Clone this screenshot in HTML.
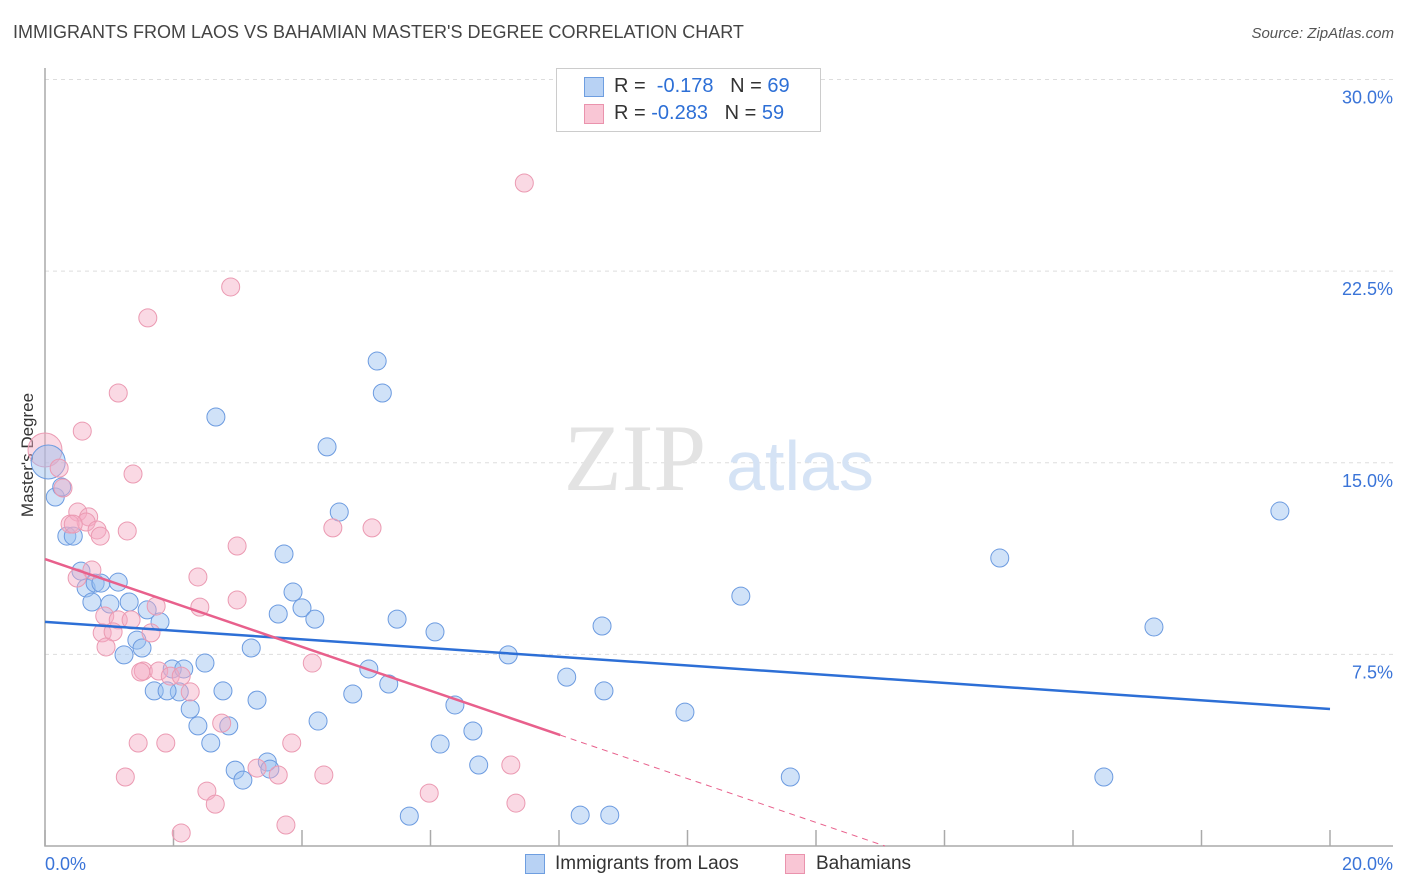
<!DOCTYPE html>
<html><head><meta charset="utf-8"><style>
body{margin:0;background:#fff;font-family:"Liberation Sans",sans-serif;}
#wrap{position:relative;width:1406px;height:892px;overflow:hidden;}
.t{position:absolute;white-space:nowrap;}
</style></head><body>
<div id="wrap">
<div class="t" style="left:13px;top:22px;font-size:18px;color:#444;">IMMIGRANTS FROM LAOS VS BAHAMIAN MASTER'S DEGREE CORRELATION CHART</div>
<div class="t" style="right:12px;top:25px;font-size:15px;color:#555;font-style:italic;">Source: ZipAtlas.com</div>
<div class="t" style="left:-34px;top:445px;font-size:17px;color:#333;transform:rotate(-90deg);">Master's Degree</div>
<svg id="plot" width="1406" height="892" style="position:absolute;left:0;top:0"></svg>
<div style="position:absolute;left:556px;top:68px;width:263px;height:62px;border:1px solid #ccc;background:#fff;">
 <div style="position:absolute;left:27px;top:8px;width:18px;height:18px;background:#b8d2f4;border:1px solid #6e9ee0;"></div>
 <div class="t" style="left:57px;top:6px;font-size:20px;color:#333;">R = &nbsp;<span style="color:#2d6fd6">-0.178</span> &nbsp;&nbsp;N = <span style="color:#2d6fd6">69</span></div>
 <div style="position:absolute;left:27px;top:35px;width:18px;height:18px;background:#f9c6d5;border:1px solid #ea93ad;"></div>
 <div class="t" style="left:57px;top:33px;font-size:20px;color:#333;">R = <span style="color:#2d6fd6">-0.283</span> &nbsp;&nbsp;N = <span style="color:#2d6fd6">59</span></div>
</div>
<div>
 <div style="position:absolute;left:525px;top:854px;width:18px;height:18px;background:#b8d2f4;border:1px solid #6e9ee0;"></div>
 <div class="t" style="left:555px;top:853px;font-size:19px;color:#333;">Immigrants from Laos</div>
 <div style="position:absolute;left:785px;top:854px;width:18px;height:18px;background:#f9c6d5;border:1px solid #ea93ad;"></div>
 <div class="t" style="left:816px;top:853px;font-size:19px;color:#333;">Bahamians</div>
</div>
</div>
<script>
const yTicks=[30,22.5,15,7.5];
const yTickLabels=["30.0%","22.5%","15.0%","7.5%"];
const xTickLabels=["0.0%","20.0%"];
const laosX=[5.17,5.25,2.66,4.39,4.58,19.22,14.86,3.72,0.16,0.34,0.44,0.56,0.64,0.78,0.87,1.14,0.73,1.01,1.31,1.59,1.79,1.43,1.51,1.23,3.86,4.00,3.63,4.20,5.48,6.07,8.67,10.83,17.26,3.21,2.49,1.98,2.16,2.09,1.70,1.90,2.77,5.04,5.35,4.79,7.21,8.12,8.70,9.96,3.30,2.26,2.38,2.86,4.25,6.38,6.66,2.58,6.15,2.96,3.08,3.46,3.50,6.75,11.60,16.48,5.67,8.33,8.79,0.26];
const laosY=[18.98,17.73,16.79,15.62,13.07,13.11,11.27,11.43,13.66,12.13,12.13,10.76,10.10,10.29,10.29,10.33,9.55,9.47,9.55,9.24,8.77,8.06,7.75,7.48,9.94,9.32,9.08,8.88,8.88,8.38,8.61,9.78,8.57,7.75,7.16,6.93,6.93,6.03,6.07,6.07,6.07,6.93,6.34,5.95,7.48,6.61,6.07,5.24,5.71,5.36,4.70,4.70,4.89,5.52,4.50,4.03,3.99,2.97,2.58,3.29,3.01,3.17,2.70,2.70,1.17,1.21,1.21,14.05];
const bahX=[7.46,2.89,1.60,1.14,0.58,0.22,0.28,1.37,0.51,0.68,0.64,0.39,0.44,0.81,0.86,1.28,4.48,5.09,2.99,0.73,2.38,0.50,2.99,2.41,1.73,0.93,1.14,1.34,0.89,1.65,1.06,0.95,4.16,1.53,1.77,1.49,1.95,2.12,2.26,2.75,1.45,1.88,3.84,1.25,3.63,4.34,7.25,3.30,2.52,2.65,5.98,7.33,2.12,3.75];
const bahY=[25.95,21.88,20.67,17.73,16.24,14.79,14.01,14.56,13.07,12.88,12.68,12.60,12.60,12.37,12.13,12.33,12.45,12.45,11.74,10.80,10.53,10.49,9.63,9.35,9.39,9.00,8.85,8.85,8.34,8.34,8.38,7.79,7.16,6.85,6.85,6.81,6.65,6.65,6.03,4.81,4.03,4.03,4.03,2.70,2.78,2.78,3.17,3.05,2.15,1.64,2.07,1.68,0.51,0.82];
const bigLaos=[[0.05,15.03]];
const bigBah=[[0,15.5]];
const laosTrend=[8.77,5.36];
const bahTrend=[11.23,4.34];
const bahSolidEnd=8.02;
const NS="http://www.w3.org/2000/svg";
const svg=document.getElementById('plot');
const X0=45,X1=1330,Y0=846,PX=25.55;
function sx(v){return X0+(X1-X0)*v/20;}
function sy(v){return Y0-v*PX;}
function mk(tag,attrs){const e=document.createElementNS(NS,tag);for(const k in attrs)e.setAttribute(k,attrs[k]);svg.appendChild(e);return e;}
yTicks.forEach((t,i)=>{
 const g=mk('line',{x1:45,x2:1393,y1:sy(t),y2:sy(t),stroke:'#ddd','stroke-dasharray':'4,4'});
 
 
 const tx=mk('text',{x:1393,y:sy(t)+24,'text-anchor':'end','font-size':18,fill:'#3a74d8','font-family':'Liberation Sans'});
 tx.textContent=yTickLabels[i];
 
 
});
const ax=mk('path',{d:'M45 68V846H1393',stroke:'#aaa',fill:'none','stroke-width':1.5});


for(let i=0;i<=10;i++){
 const tk=mk('line',{x1:sx(i*2),x2:sx(i*2),y1:830,y2:846,stroke:'#aaa','stroke-width':1.5});
 
 
}
[[xTickLabels[0],45,'start'],[xTickLabels[1],1393,'end']].forEach(a=>{
 const tx=mk('text',{x:a[1],y:870,'text-anchor':a[2],'font-size':18,fill:'#3a74d8','font-family':'Liberation Sans'});
 tx.textContent=a[0];
 
 
});
const w1=mk('text',{x:635,y:490,'text-anchor':'middle','font-size':95,fill:'#e3e3e3','font-family':'Liberation Serif'});
w1.textContent='ZIP';


const w2=mk('text',{x:800,y:490,'text-anchor':'middle','font-size':70,fill:'#d5e3f5','font-family':'Liberation Sans'});
w2.textContent='atlas';


function dot(x,y,r,blue){
 const c=mk('circle',{cx:sx(x),cy:sy(y),r:r,fill:blue?'rgba(150,190,240,0.45)':'rgba(245,170,195,0.45)',stroke:blue?'#6c9be0':'#eb9ab2','stroke-width':1});
 
 
}
bigBah.forEach(p=>dot(p[0],p[1],17,false));
bigLaos.forEach(p=>dot(p[0],p[1],17,true));
laosX.forEach((x,i)=>dot(x,laosY[i],9,true));
bahX.forEach((x,i)=>dot(x,bahY[i],9,false));
const lt=mk('line',{x1:sx(0),y1:sy(laosTrend[0]),x2:sx(20),y2:sy(laosTrend[1]),stroke:'#2d6fd6','stroke-width':2.5});


const slope=(bahTrend[1]-bahTrend[0])/bahSolidEnd;
const bt=mk('line',{x1:sx(0),y1:sy(bahTrend[0]),x2:sx(bahSolidEnd),y2:sy(bahTrend[1]),stroke:'#e8608c','stroke-width':2.5});


const zx=-bahTrend[0]/slope;
const bd=mk('line',{x1:sx(bahSolidEnd),y1:sy(bahTrend[1]),x2:sx(zx),y2:sy(0),stroke:'#e8608c','stroke-width':1,'stroke-dasharray':'6,5'});


</script>
</body></html>
